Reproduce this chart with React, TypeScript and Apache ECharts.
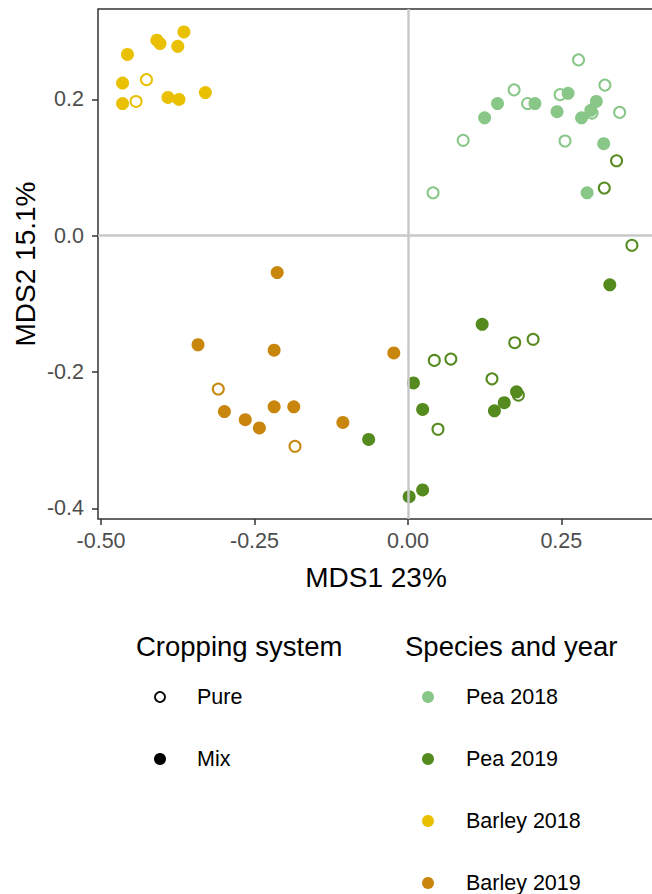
import React, { useEffect, useRef } from "react";
import * as echarts from "echarts";

// ---- Data (MDS1, MDS2) ----
const pea2018Mix = [[0.125, 0.173], [0.146, 0.194], [0.207, 0.194], [0.243, 0.182], [0.261, 0.209], [0.283, 0.173], [0.298, 0.184], [0.307, 0.197], [0.319, 0.135], [0.292, 0.063]];
const pea2018Pure = [[0.041, 0.063], [0.090, 0.140], [0.173, 0.214], [0.195, 0.194], [0.248, 0.207], [0.278, 0.258], [0.321, 0.221], [0.345, 0.181], [0.256, 0.139], [0.300, 0.180]];
const pea2019Mix = [[-0.064, -0.299], [0.002, -0.383], [0.024, -0.373], [0.009, -0.216], [0.024, -0.255], [0.121, -0.130], [0.141, -0.257], [0.157, -0.245], [0.177, -0.229], [0.329, -0.072]];
const pea2019Pure = [[0.043, -0.183], [0.070, -0.181], [0.049, -0.284], [0.137, -0.210], [0.174, -0.157], [0.204, -0.152], [0.180, -0.234], [0.365, -0.014], [0.340, 0.110], [0.320, 0.070]];
const barley2018Mix = [[-0.365, 0.299], [-0.409, 0.287], [-0.404, 0.282], [-0.375, 0.278], [-0.457, 0.266], [-0.465, 0.224], [-0.465, 0.194], [-0.391, 0.203], [-0.373, 0.200], [-0.330, 0.210]];
const barley2018Pure = [[-0.426, 0.229], [-0.443, 0.197]];
const barley2019Mix = [[-0.213, -0.054], [-0.342, -0.160], [-0.218, -0.168], [-0.023, -0.172], [-0.299, -0.258], [-0.265, -0.270], [-0.242, -0.282], [-0.218, -0.251], [-0.186, -0.251], [-0.106, -0.274]];
const barley2019Pure = [[-0.309, -0.225], [-0.184, -0.309]];

const speciesNames = ["Pea 2018", "Pea 2019", "Barley 2018", "Barley 2019"];
const speciesColors = ["#88C788", "#558A1E", "#E9C002", "#C8860C"];
const systemNames = ["Pure", "Mix"];
const xTicks = [-0.5, -0.25, 0, 0.25];
const yTicks = [-0.4, -0.2, 0, 0.2];
const xTitle = "MDS1 23%";
const yTitle = "MDS2 15.1%";
const legendTitles = ["Cropping system", "Species and year"];

const groups = [
  { species: 0, pure: pea2018Pure, mix: pea2018Mix },
  { species: 1, pure: pea2019Pure, mix: pea2019Mix },
  { species: 2, pure: barley2018Pure, mix: barley2018Mix },
  { species: 3, pure: barley2019Pure, mix: barley2019Mix },
];

const FONT = "'Liberation Sans', Arial, Helvetica, sans-serif";

export default function App() {
  const ref = useRef<HTMLDivElement>(null);

  useEffect(() => {
    if (!ref.current) return;
    const chart = echarts.init(ref.current, undefined, { renderer: "svg" });

    const series: any[] = [
      {
        type: "scatter",
        name: "zero",
        data: [],
        z: 1,
        silent: true,
        markLine: {
          silent: true,
          symbol: "none",
          label: { show: false },
          lineStyle: { color: "#C8C8C8", width: 2.5, type: "solid" },
          data: [{ xAxis: 0 }, { yAxis: 0 }],
        },
      },
    ];
    groups.forEach((g) => {
      const c = speciesColors[g.species];
      series.push({
        type: "scatter",
        name: speciesNames[g.species] + " " + systemNames[0],
        data: g.pure,
        symbol: "circle",
        symbolSize: 11,
        z: 2,
        itemStyle: { color: "rgba(255,255,255,0)", borderColor: c, borderWidth: 2, opacity: 1 },
      });
      series.push({
        type: "scatter",
        name: speciesNames[g.species] + " " + systemNames[1],
        data: g.mix,
        symbol: "circle",
        symbolSize: 13,
        z: 3,
        itemStyle: { color: c, opacity: 1 },
      });
    });

    const graphic: any[] = [
      {
        type: "text",
        x: 376,
        y: 577,
        style: { text: xTitle, font: `28px ${FONT}`, fill: "#000", textAlign: "center", textVerticalAlign: "middle" },
      },
      {
        type: "text",
        x: 25,
        y: 264,
        rotation: Math.PI / 2,
        style: { text: yTitle, font: `28px ${FONT}`, fill: "#000", textAlign: "center", textVerticalAlign: "middle" },
      },
      {
        type: "text",
        x: 136,
        y: 646,
        style: { text: legendTitles[0], font: `27.5px ${FONT}`, fill: "#000", textAlign: "left", textVerticalAlign: "middle" },
      },
      {
        type: "text",
        x: 405,
        y: 646,
        style: { text: legendTitles[1], font: `27.5px ${FONT}`, fill: "#000", textAlign: "left", textVerticalAlign: "middle" },
      },
    ];
    const rowY = [697, 759, 821, 883];
    systemNames.forEach((name, i) => {
      graphic.push({
        type: "circle",
        shape: { cx: 160, cy: rowY[i], r: i === 0 ? 5 : 6 },
        style: i === 0 ? { fill: "none", stroke: "#000", lineWidth: 1.8 } : { fill: "#000" },
      });
      graphic.push({
        type: "text",
        x: 197,
        y: rowY[i],
        style: { text: name, font: `21.5px ${FONT}`, fill: "#000", textAlign: "left", textVerticalAlign: "middle" },
      });
    });
    speciesNames.forEach((name, i) => {
      graphic.push({
        type: "circle",
        shape: { cx: 428, cy: rowY[i], r: 6 },
        style: { fill: speciesColors[i] },
      });
      graphic.push({
        type: "text",
        x: 466,
        y: rowY[i],
        style: { text: name, font: `21.5px ${FONT}`, fill: "#000", textAlign: "left", textVerticalAlign: "middle" },
      });
    });

    chart.setOption({
      animation: false,
      backgroundColor: "#fff",
      textStyle: { fontFamily: FONT },
      grid: {
        left: 98,
        top: 9,
        width: 556,
        height: 510,
        show: true,
        borderColor: "#333333",
        borderWidth: 1.5,
        backgroundColor: "transparent",
        containLabel: false,
      },
      xAxis: {
        type: "value",
        min: -0.505,
        max: 0.401,
        axisLine: { show: false, onZero: false },
        splitLine: { show: false },
        axisTick: { show: true, length: 6, customValues: xTicks, lineStyle: { color: "#333333", width: 1.5 } },
        axisLabel: {
          show: true,
          customValues: xTicks,
          margin: 11,
          fontSize: 21.5,
          color: "#4D4D4D",
          fontFamily: FONT,
          formatter: (v: number) => v.toFixed(2),
        },
      },
      yAxis: {
        type: "value",
        min: -0.4157,
        max: 0.3327,
        axisLine: { show: false, onZero: false },
        splitLine: { show: false },
        axisTick: { show: true, length: 6, customValues: yTicks, lineStyle: { color: "#333333", width: 1.5 } },
        axisLabel: {
          show: true,
          customValues: yTicks,
          margin: 14,
          fontSize: 21.5,
          color: "#4D4D4D",
          fontFamily: FONT,
          formatter: (v: number) => v.toFixed(1),
        },
      },
      series,
      graphic,
    });

    return () => chart.dispose();
  }, []);

  return (
    <div style={{ position: "fixed", left: 0, top: 0, width: 652, height: 894, overflow: "hidden", background: "#fff" }}>
      <div ref={ref} style={{ width: 700, height: 894 }} />
    </div>
  );
}
